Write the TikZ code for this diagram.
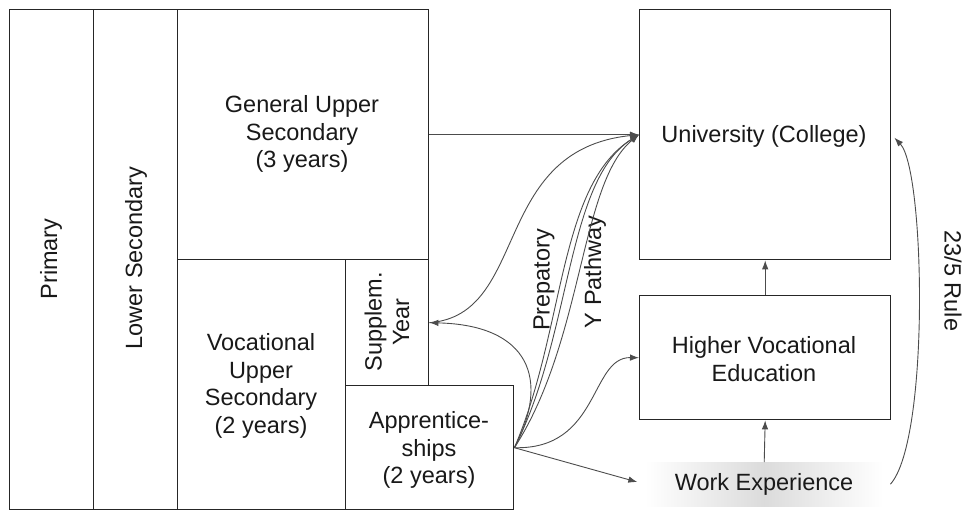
\documentclass[tikz,border=0pt]{standalone}
\usepackage{fontspec}
\setmainfont{Liberation Sans}
\usetikzlibrary{arrows.meta}
\newcommand\lab{\fontsize{23.5}{27.5}\selectfont}
\tikzset{
  box/.style={draw=black!85, line width=1.4pt, inner sep=0pt, anchor=north west},
  txt/.style={inner sep=0pt, align=center, font=\lab, text=black!90},
  conn/.style={draw=black!70, line width=0.9pt, -{Latex[length=9pt,width=6.5pt]}},
}
\begin{document}
\begin{tikzpicture}[x=1pt,y=-1pt]
\useasboundingbox (0,0) rectangle (963,510);
% boxes
\node[box, minimum width=84pt, minimum height=500pt] (prim) at (9,9) {};
\node[box, minimum width=84pt, minimum height=500pt] (lows) at (93,9) {};
\node[box, minimum width=251pt, minimum height=250pt] (gen) at (177,9) {};
\node[box, minimum width=168pt, minimum height=250pt] (voc) at (177,259) {};
\node[box, minimum width=83pt, minimum height=126pt] (supp) at (345,259) {};
\node[box, minimum width=168pt, minimum height=124pt] (appr) at (345,385) {};
\node[box, minimum width=251pt, minimum height=250pt] (uni) at (639,9) {};
\node[box, minimum width=251pt, minimum height=124pt] (hve) at (639,295) {};
\node[anchor=north west, minimum width=238pt, minimum height=44pt, inner sep=0pt,
      left color=white, right color=white, middle color=black!14] (work) at (645,462) {};
% texts
\node[txt, rotate=90] (tprim) at (51,259) {Primary};
\node[txt, rotate=90] (tlows) at (136,258) {Lower Secondary};
\node[txt] (tgen) at (302,134) {General Upper\\Secondary\\(3 years)};
\node[txt] (tvoc) at (261,386) {Vocational\\Upper\\Secondary\\(2 years)};
\node[txt, rotate=90] (tsupp) at (387,322) {Supplem.\\Year};
\node[txt] (tappr) at (429,450) {Apprentice-\\ships\\(2 years)};
\node[txt] (tuni) at (764,136) {University (College)};
\node[txt] (thve) at (764,359) {Higher Vocational\\Education};
\node[txt] (twork) at (764,484) {Work Experience};
\node[txt, rotate=90] (tprep) at (544,280) {Prepatory};
\node[txt, rotate=90] (typ) at (595,272) {Y Pathway};
\node[txt, rotate=-90] (trule) at (953,281) {23/5 Rule};
% connectors
\draw[conn] (gen.east) -- (uni.west);
\draw[conn] (hve.north) -- (uni.south);
\draw[conn] (work.north) -- (hve.south);
\draw[conn] (appr.east) .. controls (550,380) and (530,325) .. (supp.east);
\draw[conn] (supp.east) .. controls (530,315) and (490,150) .. (uni.west);
\draw[conn] (appr.east) .. controls (565,330) and (558,185) .. (uni.west);
\draw[conn] (appr.east) .. controls (572,335) and (566,180) .. (uni.west);
\draw[conn] (appr.east) .. controls (584,340) and (580,182) .. (uni.west);
\draw[conn] (appr.east) .. controls (600,450) and (590,357) .. (hve.west);
\draw[conn, shorten >=8pt] (appr.east) -- (work.west);
\draw[conn] ([xshift=7pt]work.east) .. controls (930,440) and (925,170) .. ([xshift=3pt,yshift=-3pt]uni.east);
\end{tikzpicture}
\end{document}
